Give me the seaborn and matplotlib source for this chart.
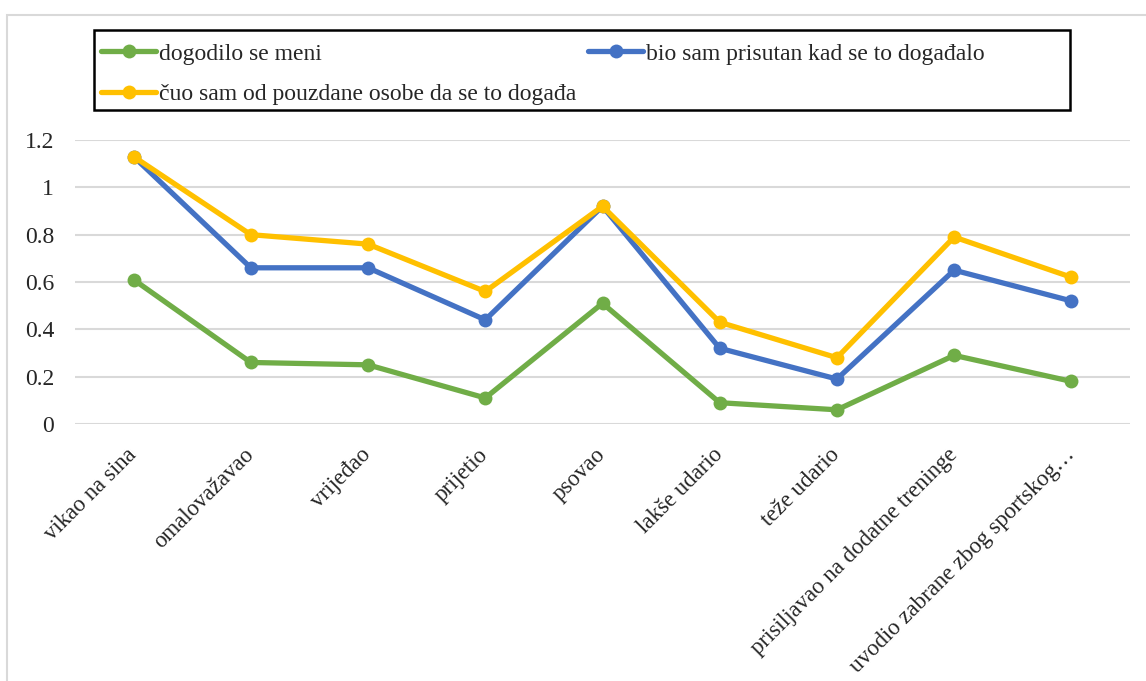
import matplotlib
matplotlib.use('Agg')
import matplotlib.pyplot as plt
import seaborn as sns
from pandas import DataFrame
from matplotlib.patches import Rectangle

categories = ['vikao na sina', 'omalovažavao', 'vrijeđao', 'prijetio', 'psovao',
              'lakše udario', 'teže udario', 'prisiljavao na dodatne treninge',
              'uvodio zabrane zbog sportskog…']
meni = [0.61, 0.26, 0.25, 0.11, 0.51, 0.09, 0.06, 0.29, 0.18]
prisutan = [1.13, 0.66, 0.66, 0.44, 0.92, 0.32, 0.19, 0.65, 0.52]
cuo = [1.13, 0.80, 0.76, 0.56, 0.92, 0.43, 0.28, 0.79, 0.62]
y_ticks = [0, 0.2, 0.4, 0.6, 0.8, 1, 1.2]
y_tick_labels = ['0', '0.2', '0.4', '0.6', '0.8', '1', '1.2']

series = [
    ('dogodilo se meni', meni, '#70AD47'),
    ('bio sam prisutan kad se to događalo', prisutan, '#4472C4'),
    ('čuo sam od pouzdane osobe da se to događa', cuo, '#FFC000'),
]

sns.set_style('white')
plt.rcParams['font.family'] = ['Liberation Serif', 'DejaVu Serif']

W, H = 1146, 681
fig = plt.figure(figsize=(W / 100, H / 100), dpi=100)
ax = fig.add_axes([75 / W, 1 - 424 / H, (1130 - 75) / W, (424 - 140) / H])

handles = {}
for name, vals, color in series:
    df = DataFrame({'kategorija': categories, 'vrijednost': vals})
    sns.lineplot(data=df, x='kategorija', y='vrijednost', ax=ax, color=color,
                 linewidth=3.8, marker='o', markersize=10, markeredgewidth=0,
                 sort=False, label=name)
    handles[name] = ax.lines[-1]

ax.set_ylim(0, 1.2)
ax.set_xlim(-0.5, len(categories) - 0.5)
ax.set_yticks(y_ticks)
ax.set_yticklabels(y_tick_labels)
ax.set_xlabel('')
ax.set_ylabel('')
ax.grid(axis='y', color='#D9D9D9', linewidth=1.5)
ax.set_axisbelow(True)
for s in ax.spines.values():
    s.set_visible(False)
ax.tick_params(axis='y', length=0, pad=15, labelsize=17)
ax.tick_params(axis='x', length=0, pad=20, labelsize=16.5)
for lbl in ax.get_xticklabels():
    lbl.set_rotation(45)
    lbl.set_ha('right')
    lbl.set_va('center')
    lbl.set_rotation_mode('anchor')

# legend: green + yellow in first column, blue in second
order = [series[0][0], series[2][0], series[1][0]]
leg = ax.legend([handles[n] for n in order], order, ncol=2,
                loc='upper left', bbox_to_anchor=(101 / W, 1 - 43 / H),
                bbox_transform=fig.transFigure, fontsize=17, frameon=False,
                handlelength=2.33, handletextpad=0.13, columnspacing=0.5,
                borderpad=0, labelspacing=0.8, borderaxespad=0)

# legend box
fig.patches.append(Rectangle((94 / W, 1 - 110 / H), (1070 - 94) / W, 80 / H,
                             transform=fig.transFigure, fill=False,
                             edgecolor='black', linewidth=1.8))

# chart area outline
fig.patches.append(Rectangle((7 / W, -0.1), 1.2, 1 - 15 / H + 0.1,
                             transform=fig.transFigure, fill=False,
                             edgecolor='#D9D9D9', linewidth=1.5))

fig.savefig('out.png', dpi=100)
